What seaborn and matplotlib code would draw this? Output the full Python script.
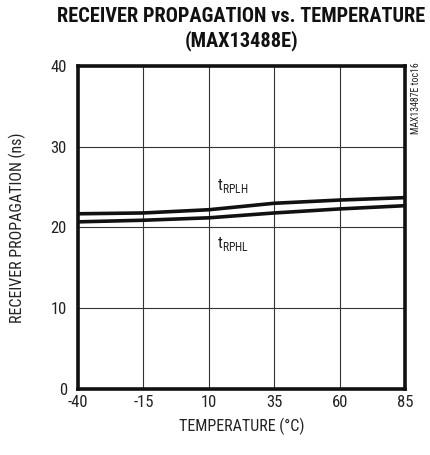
import matplotlib
matplotlib.use("Agg")
import matplotlib.pyplot as plt
import matplotlib.font_manager as fm
import seaborn as sns
import pandas as pd

temps = [-40, -15, 10, 35, 60, 85]
t_rplh = [21.7, 21.8, 22.2, 23.0, 23.4, 23.7]
t_rphl = [20.7, 20.9, 21.2, 21.8, 22.3, 22.7]
xticks = [-40, -15, 10, 35, 60, 85]
yticks = [0, 10, 20, 30, 40]

sns.set_theme(style="white")
available = {f.name for f in fm.fontManager.ttflist}
font = next((n for n in ["Roboto Condensed", "Archivo Narrow", "PT Sans Narrow",
                         "Liberation Sans Narrow", "Fira Sans Condensed",
                         "Encode Sans Condensed"] if n in available), "DejaVu Sans")
plt.rcParams['font.family'] = [font, 'DejaVu Sans']
plt.rcParams['mathtext.fontset'] = 'custom'
plt.rcParams['mathtext.rm'] = font

df = pd.DataFrame({"T": temps * 2,
                   "v": t_rplh + t_rphl,
                   "s": ["tRPLH"] * len(temps) + ["tRPHL"] * len(temps)})

fig = plt.figure(figsize=(4.3, 4.55), dpi=100)
ax = fig.add_axes([78/430, 1-389/455, (405-78)/430, (389-66)/455])
sns.lineplot(data=df, x="T", y="v", hue="s", palette=["#111111", "#111111"],
             linewidth=2.6, legend=False, ax=ax)
ax.set_xlim(-40, 85)
ax.set_ylim(0, 40)
ax.set_xticks(xticks)
ax.set_yticks(yticks)
ax.set_xticklabels([str(v) for v in xticks], fontsize=12)
ax.set_yticklabels([str(v) for v in yticks], fontsize=12)
ax.tick_params(axis="x", length=0, pad=4, colors="#222222")
ax.tick_params(axis="y", length=0, pad=8, colors="#222222")
ax.grid(True, color="#333333", linewidth=0.8)
for s in ax.spines.values():
    s.set_linewidth(2.6)
    s.set_color("#111111")
ax.set_xlabel("TEMPERATURE (°C)", fontsize=11.5, labelpad=6, color="#222222")
ax.set_ylabel("RECEIVER PROPAGATION (ns)", fontsize=11.5, labelpad=18, color="#222222")
ax.set_title("RECEIVER PROPAGATION vs. TEMPERATURE\n(MAX13488E)",
             fontsize=14.7, fontweight="bold", pad=14, linespacing=1.3, color="#111111")
ax.text(13, 24.7, r"t$_{\mathregular{RPLH}}$", fontsize=12, color="#222222")
ax.text(13, 17.4, r"t$_{\mathregular{RPHL}}$", fontsize=12, color="#222222")
fig.text(416/430, 1-62/455, "MAX13487E toc16", rotation=90, fontsize=7,
         ha="center", va="top", color="#222222")
fig.savefig("out.png", dpi=100)
